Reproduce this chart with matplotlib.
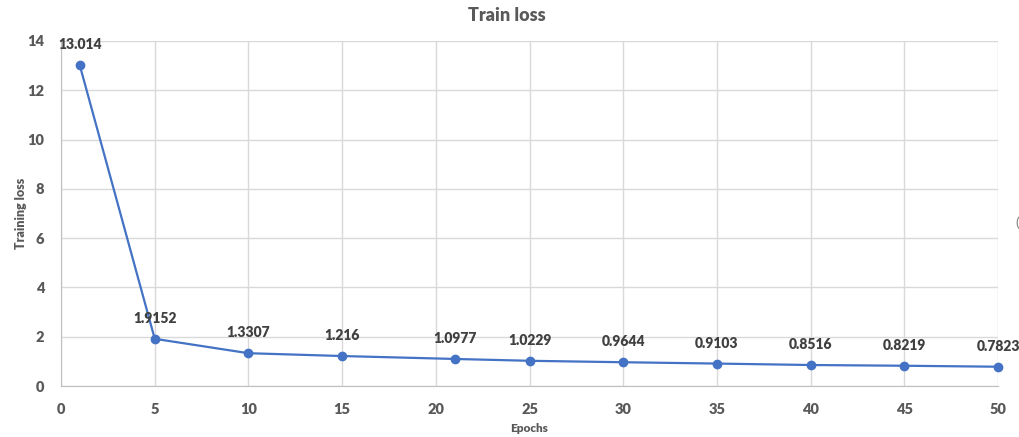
import matplotlib.pyplot as plt

plt.rcParams['font.family'] = ['Lato', 'DejaVu Sans']

# Datos
epochs = [1, 5, 10, 15, 21, 25, 30, 35, 40, 45, 50]
loss = [13.014, 1.9152, 1.3307, 1.216, 1.0977, 1.0229, 0.9644, 0.9103, 0.8516, 0.8219, 0.7823]
labels = ['13.014', '1.9152', '1.3307', '1.216', '1.0977', '1.0229',
          '0.9644', '0.9103', '0.8516', '0.8219', '0.7823']
xticks = list(range(0, 51, 5))
yticks = list(range(0, 15, 2))

blue = '#4472C4'
grey = '#595959'

fig = plt.figure(figsize=(10.19, 4.37), dpi=100)
ax = fig.add_axes([0.0599, 0.1167, 0.9195, 0.7895])

ax.plot(epochs, loss, color=blue, lw=1.6, marker='o', ms=6, zorder=3, clip_on=False)
for x, y, t in zip(epochs, loss, labels):
    ax.annotate(t, (x, y), xytext=(0, 10), textcoords='offset points',
                ha='center', va='bottom', fontsize=10, fontweight='heavy', color='#404040')

ax.set_xlim(0, 50)
ax.set_ylim(0, 14)
ax.set_xticks(xticks)
ax.set_yticks(yticks)
ax.grid(True, color='#d9d9d9', lw=1)
ax.set_axisbelow(True)
for s in ['top', 'right']:
    ax.spines[s].set_visible(False)
for s in ['left', 'bottom']:
    ax.spines[s].set_color('#bfbfbf')
ax.tick_params(length=0, labelsize=10.5, labelcolor=grey, pad=12)
for lab in ax.get_xticklabels() + ax.get_yticklabels():
    lab.set_fontweight('heavy')

ax.set_xlabel('Epochs', fontsize=8.5, fontweight='heavy', color=grey, labelpad=5)
ax.set_ylabel('Training loss', fontsize=9, fontweight='heavy', color=grey)
ax.yaxis.set_label_coords(-0.036, 0.5)
fig.text(0.4975, 0.965, 'Train loss', ha='center', va='center', fontsize=13,
         fontweight='heavy', color=grey)
fig.text(0.996, 0.49, '(', ha='left', va='center', fontsize=10, color='#808080')

plt.savefig('out.png', dpi=100)
